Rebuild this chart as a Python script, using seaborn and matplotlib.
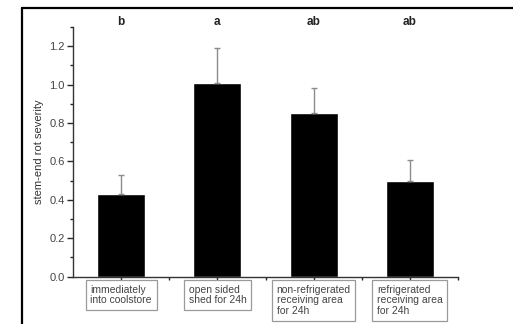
import matplotlib
matplotlib.use("Agg")
import matplotlib.pyplot as plt
from matplotlib.lines import Line2D
from matplotlib.ticker import MultipleLocator, FixedLocator
import seaborn as sns

sns.set_style("ticks")
plt.rcParams["font.family"] = ["Liberation Sans", "DejaVu Sans"]

treatments = [
    "immediately\ninto coolstore",
    "open sided\nshed for 24h",
    "non-refrigerated\nreceiving area\nfor 24h",
    "refrigerated\nreceiving area\nfor 24h",
]
severity = [0.43, 1.01, 0.85, 0.50]
sem = [0.10, 0.18, 0.13, 0.11]
groups = ["b", "a", "ab", "ab"]

fig = plt.figure(figsize=(5.13, 3.24), dpi=100)
ax = fig.add_axes([0.1423, 0.146, 0.7505, 0.7707])

sns.barplot(x=list(range(len(severity))), y=severity, color="black",
            width=0.5, saturation=1, ax=ax)
ax.errorbar(range(len(severity)), severity, yerr=[[0] * len(sem), sem],
            fmt="none", ecolor="#8c8c8c", elinewidth=1, capsize=2, capthick=1)

for i, g in enumerate(groups):
    ax.text(i, 1.325, g, ha="center", va="center", fontsize=8.5,
            color="#222222", fontweight="bold", clip_on=False)

ax.set_xlim(-0.5, 3.5)
ax.set_ylim(0, 1.3)
ax.yaxis.set_minor_locator(MultipleLocator(0.1))
ax.set_yticks([0, 0.2, 0.4, 0.6, 0.8, 1.0, 1.2])
ax.set_yticklabels(["0.0", "0.2", "0.4", "0.6", "0.8", "1.0", "1.2"])
ax.xaxis.set_minor_locator(FixedLocator([0.5, 1.5, 2.5, 3.5]))
ax.set_xticks(range(len(treatments)))
ax.set_xticklabels(treatments)
for lab in ax.get_xticklabels():
    lab.set_multialignment("left")
    lab.set_fontsize(7.5)
    lab.set_linespacing(1.05)
    lab.set_color("#444444")
    lab.set_bbox(dict(boxstyle="square,pad=0.45", fc="white", ec="#9a9a9a", lw=0.9))

ax.tick_params(axis="y", which="major", length=4, width=1, labelsize=8,
               labelcolor="#444444", pad=2)
ax.tick_params(axis="y", which="minor", length=2.5, width=1)
ax.tick_params(axis="x", which="major", length=3, width=1, pad=3)
ax.tick_params(axis="x", which="minor", length=2.5, width=1)
ax.set_ylabel("stem-end rot severity", fontsize=8, color="#333333", labelpad=4)

sns.despine(ax=ax)
for s in ["left", "bottom"]:
    ax.spines[s].set_color("#333333")
    ax.spines[s].set_linewidth(1)

fy = 1 - 8 / 324
fx = 22 / 513
fig.add_artist(Line2D([fx, fx], [0, fy], transform=fig.transFigure,
                      color="black", lw=1.6))
fig.add_artist(Line2D([fx, 1], [fy, fy], transform=fig.transFigure,
                      color="black", lw=1.6))

fig.savefig("out.png", dpi=100, facecolor="white")
